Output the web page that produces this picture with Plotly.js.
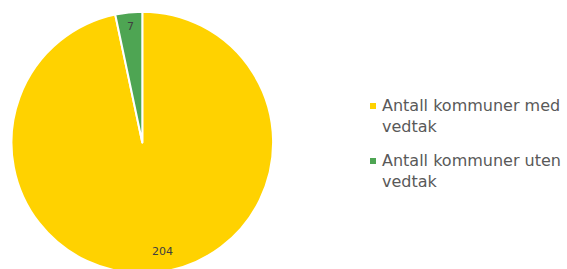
<!DOCTYPE html>
<html><head><meta charset="utf-8">
<script src="https://cdn.plot.ly/plotly-3.0.1.min.js"></script>
<style>html,body{margin:0;padding:0;overflow:hidden;background:#fff}</style>
</head><body><div id="chart"></div>
<script>
const labels = ["Antall kommuner med<br>vedtak", "Antall kommuner uten<br>vedtak"];
const values = [204, 7];
const colors = ["#FFD200", "#4EA553"];

const H = 280, W = 567;
const CX = 142.3, CY = 142.5, R = 130.8;
const labelRadius = [0.845, 0.895];
const labelAngleShift = [-4.8, 0];

const total = values.reduce((a, b) => a + b, 0);
const annotations = [];
let cum = 0;
values.forEach((v, i) => {
  const th = 2 * Math.PI * (cum + v / 2) / total + labelAngleShift[i] * Math.PI / 180;
  cum += v;
  const px = CX + R * labelRadius[i] * Math.sin(th);
  const py = CY - R * labelRadius[i] * Math.cos(th);
  annotations.push({
    xref: "paper", yref: "paper", x: px / W, y: (H - py) / H,
    xanchor: "center", yanchor: "middle", showarrow: false,
    text: String(v),
    font: {family: "DejaVu Sans", size: 11, color: "#404040"}
  });
});

// legend entries
const LX = 381, LY0 = 95, LSTEP = 55;
labels.forEach((lab, i) => {
  const top = LY0 + i * LSTEP;
  annotations.push({
    xref: "paper", yref: "paper", x: LX / W, y: (H - top) / H,
    xanchor: "left", yanchor: "top", align: "left", showarrow: false,
    borderpad: 0,
    text: lab,
    font: {family: "DejaVu Sans", size: 16, color: "#595959"}
  });
  annotations.push({
    xref: "paper", yref: "paper", x: 373 / W, y: (H - (top + 10.7)) / H,
    xanchor: "center", yanchor: "middle", showarrow: false,
    text: " ", width: 6, height: 6, borderpad: 0, borderwidth: 0,
    bgcolor: colors[i],
    font: {size: 1}
  });
});

Plotly.newPlot("chart", [{
  type: "pie",
  labels: labels,
  values: values,
  sort: false,
  direction: "clockwise",
  rotation: 0,
  marker: {colors: colors, line: {color: "#ffffff", width: 2}},
  textinfo: "none",
  domain: {x: [(CX - R) / W, (CX + R) / W], y: [(H - CY - R) / H, (H - CY + R) / H]},
  hoverinfo: "none"
}], {
  width: W, height: H,
  margin: {l: 0, r: 0, t: 0, b: 0},
  paper_bgcolor: "#ffffff",
  showlegend: false,
  annotations: annotations
}, {staticPlot: true});
</script></body></html>
